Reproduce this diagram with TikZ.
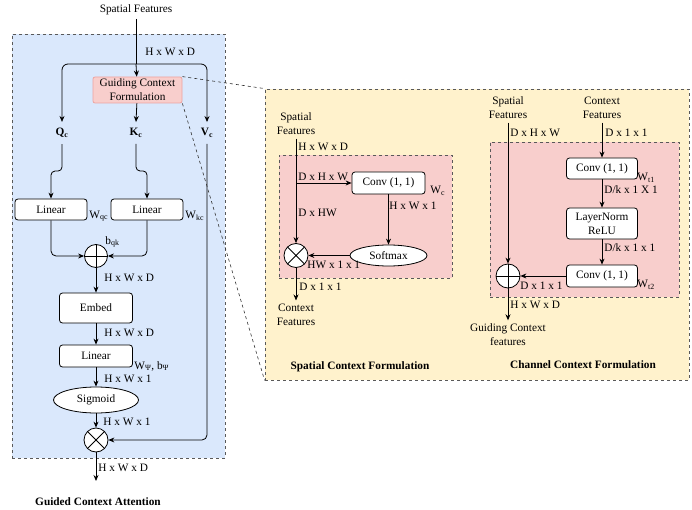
\documentclass[tikz,border=0pt]{standalone}
\usepackage{fontspec}
\setmainfont{Liberation Serif}
\usetikzlibrary{arrows.meta,shapes.geometric}

\definecolor{attnblue}{HTML}{DAE8FC}
\definecolor{formyellow}{HTML}{FFF2CC}
\definecolor{formpink}{HTML}{F8CECC}
\definecolor{pinkline}{HTML}{EDA3A0}

\tikzset{
  block/.style={draw, fill=white, rounded corners=3pt, align=center, inner sep=1pt},
  oval/.style={draw, fill=white, ellipse, inner sep=0pt},
  sumop/.style={circle, draw, fill=white, minimum size=24pt, inner sep=0pt,
    path picture={\draw (path picture bounding box.north) -- (path picture bounding box.south)
      (path picture bounding box.west) -- (path picture bounding box.east);}},
  mulop/.style={circle, draw, fill=white, minimum size=24pt, inner sep=0pt,
    path picture={\draw (path picture bounding box.north west) -- (path picture bounding box.south east)
      (path picture bounding box.north east) -- (path picture bounding box.south west);}},
  dim/.style={anchor=west, inner sep=1pt},
  panel/.style={draw=black!65, dashed, inner sep=0pt},
}

\begin{document}
\begin{tikzpicture}[x=1pt, y=-1pt, >={Stealth[length=6pt,width=5pt]}, line width=0.8pt,
    font=\fontsize{11.3}{14}\selectfont]
  \useasboundingbox (0,0) rectangle (692,510);

  % panels
  \node [panel, fill=attnblue, minimum width=213, minimum height=424] (attn) at (118.5,246) {};
  \node [panel, fill=formyellow, minimum width=424, minimum height=291] (forms) at (477,234.5) {};
  \node [panel, fill=formpink, minimum width=173, minimum height=123] (spbox) at (365.5,216.5) {};
  \node [panel, fill=formpink, minimum width=189, minimum height=155] (chbox) at (584.5,219.5) {};

  % guided context attention
  \node (sf) at (136,10) {Spatial Features};
  \coordinate (split) at (136,64);
  \node [block, draw=pinkline, fill=formpink, rounded corners=2pt, minimum width=89, minimum height=26] (gcf) at (137.5,90) {Guiding Context\\Formulation};
  \node [inner sep=6pt] (qc) at (62,133) {\textbf{Q\textsubscript{c}}};
  \node [inner sep=6pt] (kc) at (136,133) {\textbf{K\textsubscript{c}}};
  \node [inner sep=6pt] (vc) at (207,133) {\textbf{V\textsubscript{c}}};
  \node [block, minimum width=72, minimum height=21] (linq) at (51,209.5) {Linear};
  \node [block, minimum width=72, minimum height=21] (link) at (147,209.5) {Linear};
  \node [sumop, minimum size=23] (sum) at (96,256) {};
  \node [block, minimum width=73, minimum height=30] (embed) at (96,308) {Embed};
  \node [block, minimum width=73, minimum height=22] (linp) at (96,356) {Linear};
  \node [oval, minimum width=85, minimum height=26] (sig) at (96,400) {Sigmoid};
  \node [mulop] (prod) at (96,440) {};
  \coordinate (out) at (96,481);

  \node [dim] at (144,52) {H x W x D};
  \node [dim] at (88,216) {W\textsubscript{qc}};
  \node [dim] at (184,216) {W\textsubscript{kc}};
  \node [dim] at (104,242) {b\textsubscript{qk}};
  \node [dim] at (103,278) {H x W x D};
  \node [dim] at (103,333) {H x W x D};
  \node [dim] at (133,366) {W\textsubscript{Ψ}, b\textsubscript{Ψ}};
  \node [dim] at (103,379) {H x W x 1};
  \node [dim] at (102,422) {H x W x 1};
  \node [dim] at (97,468) {H x W x D};
  \node (gcatitle) at (98,502) {\textbf{Guided Context Attention}};

  \draw (sf) -- (split);
  \draw [->] (split) -- (gcf);
  \draw [->, rounded corners=6] (split) -| (qc.north);
  \draw [->, rounded corners=6] (split) -| (vc.north);
  \draw [->] (gcf) -- (kc.north);
  \draw [->, rounded corners=4] (qc.south) -- ++(0,27) -| (linq.north);
  \draw [->, rounded corners=4] (kc.south) -- ++(0,27) -| (link.north);
  \draw [->, rounded corners=5] (linq.south) |- (sum.west);
  \draw [->, rounded corners=5] (link.south) |- (sum.east);
  \draw [->] (sum) -- (embed);
  \draw [->] (embed) -- (linp);
  \draw [->] (linp) -- (sig);
  \draw [->] (sig) -- (prod);
  \draw [->, rounded corners=5] (vc.south) |- (prod.east);
  \draw [->] (prod) -- (out);

  \draw [dashed, black!80, line width=0.6pt] (gcf.north east) -- (forms.north west);
  \draw [dashed, black!80, line width=0.6pt] (gcf.south east) -- (forms.south west);

  % spatial context formulation
  \node [align=center] (sf2) at (296,124) {Spatial\\Features};
  \coordinate (tap) at (296,183);
  \node [block, minimum width=73, minimum height=22] (conv) at (388.5,183) {Conv (1, 1)};
  \node [oval, minimum width=77, minimum height=21] (soft) at (388.5,255.5) {Softmax};
  \node [mulop] (prod2) at (296,255.5) {};
  \node [align=center] (cf) at (296,315) {Context\\Features};

  \node [dim] at (297,147) {H x W x D};
  \node [dim] at (297,177) {D x H x W};
  \node [dim] at (297,213) {D x HW};
  \node [dim] at (388,206) {H x W x 1};
  \node [dim] at (429,191) {W\textsubscript{c}};
  \node [dim] at (306,265) {HW x 1 x 1};
  \node [dim] at (298,287) {D x 1 x 1};
  \node (sptitle) at (360,367) {\textbf{Spatial Context Formulation}};

  \draw [->] (sf2) -- (prod2);
  \draw [->] (tap) -- (conv);
  \draw [->] (conv) -- (soft);
  \draw [->] (soft) -- (prod2);
  \draw [->] (prod2) -- (cf);

  % channel context formulation
  \node [align=center] (sf3) at (508,108) {Spatial\\Features};
  \node [align=center] (ctx) at (602,108) {Context\\Features};
  \node [block, minimum width=71, minimum height=21] (conva) at (602,168.5) {Conv (1, 1)};
  \node [block, minimum width=71, minimum height=31] (norm) at (602,223.5) {LayerNorm\\ReLU};
  \node [block, minimum width=71, minimum height=22] (convb) at (602,276) {Conv (1, 1)};
  \node [sumop] (sum2) at (508,276) {};
  \node [align=center] (gcfeat) at (508,335) {Guiding Context\\features};

  \node [dim] at (509,133) {D x H x W};
  \node [dim] at (604,133) {D x 1 x 1};
  \node [dim] at (636,178) {W\textsubscript{t1}};
  \node [dim] at (603,190) {D/k x 1 X 1};
  \node [dim] at (603,248) {D/k x 1 x 1};
  \node [dim] at (636,285) {W\textsubscript{t2}};
  \node [dim] at (519,286) {D x 1 x 1};
  \node [dim] at (509,305) {H x W x D};
  \node (chtitle) at (583,365) {\textbf{Channel Context Formulation}};

  \draw [->] (sf3) -- (sum2);
  \draw [->] (ctx) -- (conva);
  \draw [->] (conva) -- (norm);
  \draw [->] (norm) -- (convb);
  \draw [->] (convb) -- (sum2);
  \draw [->] (sum2) -- (gcfeat);
\end{tikzpicture}
\end{document}
